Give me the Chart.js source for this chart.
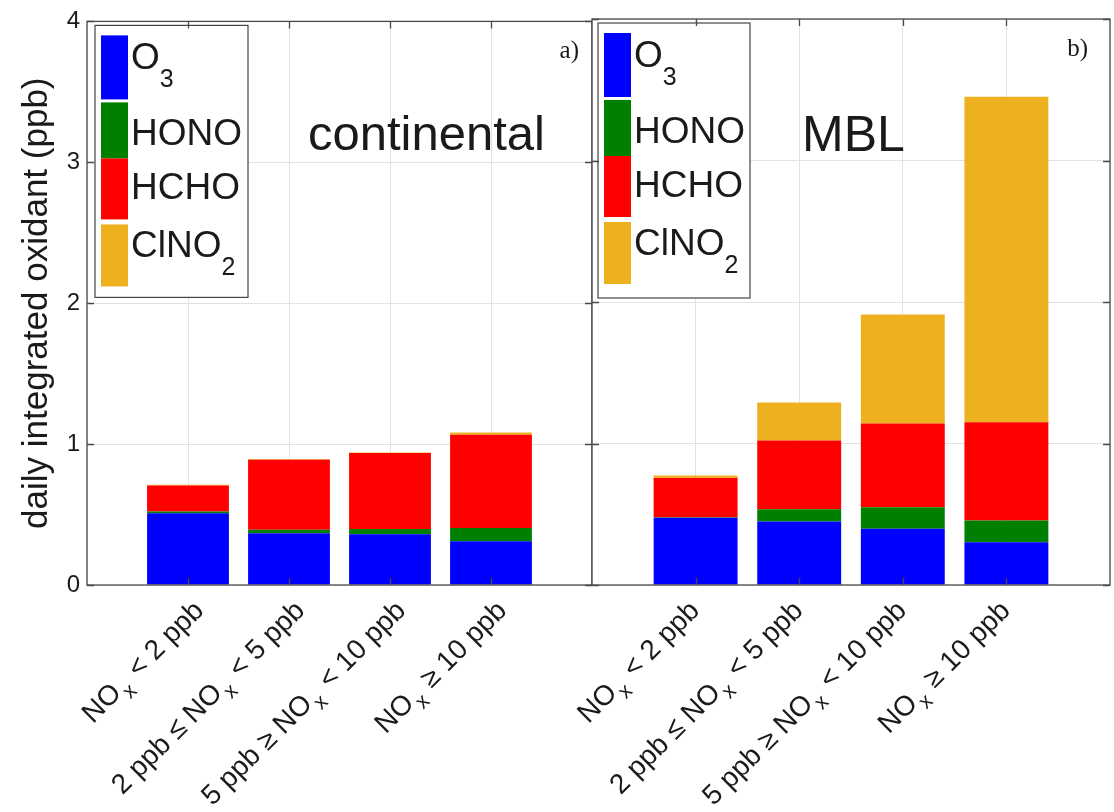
<!DOCTYPE html>
<html><head><meta charset="utf-8">
<script src="https://cdn.jsdelivr.net/npm/chart.js@4.4.1/dist/chart.umd.min.js"></script>
<style>
html,body{margin:0;padding:0;background:#fff;}
#wrap{position:relative;width:1114px;height:812px;overflow:hidden;background:#fff;}
canvas{position:absolute;left:0;top:0;}
</style></head><body>
<div id="wrap"><canvas id="c1" width="1114" height="812"></canvas><canvas id="c2" width="1114" height="812"></canvas></div>
<script>
// ---- data ----
const categories = ['NO_x < 2 ppb', '2 ppb ≤ NO_x < 5 ppb', '5 ppb ≥ NO_x < 10 ppb', 'NO_x ≥ 10 ppb'];
const seriesNames = ['O_3', 'HONO', 'HCHO', 'ClNO_2'];
const yTicks = [0, 1, 2, 3, 4];
const yTitle = 'daily integrated oxidant (ppb)';
// continental (panel a)
const contO3    = [0.510, 0.367, 0.360, 0.310];
const contHONO  = [0.012, 0.026, 0.037, 0.094];
const contHCHO  = [0.185, 0.496, 0.539, 0.663];
const contClNO2 = [0.005, 0.006, 0.004, 0.015];
// MBL (panel b)
const mblO3    = [0.475, 0.449, 0.397, 0.303];
const mblHONO  = [0.004, 0.087, 0.153, 0.153];
const mblHCHO  = [0.278, 0.485, 0.591, 0.694];
const mblClNO2 = [0.016, 0.268, 0.771, 2.300];

const colors = ['#0000ff', '#008000', '#ff0000', '#edb120'];
const FONT = "'Liberation Sans', Arial, Helvetica, sans-serif";
const SERIF = "'Liberation Serif', 'DejaVu Serif', serif";
const TXT = '#1a1a1a';

function parseRich(s) {
  const segs = [];
  let buf = '';
  for (let i = 0; i < s.length; i++) {
    if (s[i] === '_' && i + 1 < s.length) {
      if (buf) segs.push({t: buf, sub: false});
      buf = '';
      segs.push({t: s[i + 1], sub: true});
      i++;
    } else buf += s[i];
  }
  if (buf) segs.push({t: buf, sub: false});
  return segs;
}
function richWidth(ctx, segs, size, subSize, gap) {
  let w = 0;
  segs.forEach(sg => {
    ctx.font = (sg.sub ? subSize : size) + 'px ' + FONT;
    w += ctx.measureText(sg.t).width + (sg.sub ? gap * 2 : 0);
  });
  return w;
}
function drawRich(ctx, segs, x, y, size, subSize, subDrop, gap) {
  segs.forEach(sg => {
    ctx.font = (sg.sub ? subSize : size) + 'px ' + FONT;
    if (sg.sub) x += gap;
    ctx.fillText(sg.t, x, y + (sg.sub ? subDrop : 0));
    x += ctx.measureText(sg.t).width + (sg.sub ? gap : 0);
  });
}

const panelPlugin = {
  id: 'panel',
  afterDraw(chart, args, o) {
    const ctx = chart.ctx, a = chart.chartArea;
    const xs = chart.scales.x, ys = chart.scales.y;
    ctx.save();
    // legend box
    const L = o.legend;
    const lx = a.left + L.x, ly = a.top + L.y;
    ctx.fillStyle = '#fff';
    ctx.fillRect(lx, ly, L.w, L.h);
    ctx.strokeStyle = '#444'; ctx.lineWidth = 1.2;
    ctx.strokeRect(lx, ly, L.w, L.h);
    const rows = [[10, 74, 44], [77, 133, 120], [133, 194, 174], [199, 261, 232]];
    ctx.textAlign = 'left'; ctx.textBaseline = 'alphabetic';
    seriesNames.forEach((n, i) => {
      ctx.fillStyle = colors[i];
      ctx.fillRect(lx + 6, ly + rows[i][0], 27, rows[i][1] - rows[i][0]);
      ctx.fillStyle = TXT;
      drawRich(ctx, parseRich(n), lx + 36, ly + rows[i][2], 37, 25, 18, 0);
    });
    // panel title & tag
    ctx.fillStyle = TXT;
    ctx.font = o.titleSize + 'px ' + FONT;
    ctx.fillText(o.title, a.left + o.titleX, a.top + o.titleY);
    ctx.font = '25px ' + SERIF;
    ctx.textAlign = 'right';
    ctx.fillText(o.tag, a.right - o.tagR, a.top + 37);
    // box and inward ticks
    ctx.strokeStyle = '#4a4a4a'; ctx.lineWidth = 1.3;
    ctx.strokeRect(a.left, a.top, a.right - a.left, a.bottom - a.top);
    const tl = 7;
    ctx.beginPath();
    yTicks.forEach(v => {
      const y = Math.round(ys.getPixelForValue(v)) + 0.5;
      ctx.moveTo(a.left, y); ctx.lineTo(a.left + tl, y);
      ctx.moveTo(a.right, y); ctx.lineTo(a.right - tl, y);
    });
    categories.forEach((c, i) => {
      const x = Math.round(xs.getPixelForValue(i + 1)) + 0.5;
      ctx.moveTo(x, a.bottom); ctx.lineTo(x, a.bottom - tl);
      ctx.moveTo(x, a.top); ctx.lineTo(x, a.top + tl);
    });
    ctx.stroke();
    // rotated category labels
    ctx.fillStyle = TXT;
    ctx.textAlign = 'left';
    categories.forEach((c, i) => {
      const segs = parseRich(c);
      const x = xs.getPixelForValue(i + 1) + o.labelShift;
      const y = a.bottom + 20;
      const w = richWidth(ctx, segs, 28, 21, 2);
      ctx.save();
      ctx.translate(x, y);
      ctx.rotate(-Math.PI / 4);
      drawRich(ctx, segs, -w, 10, 28, 21, 9, 2);
      ctx.restore();
    });
    ctx.restore();
  }
};

function makeChart(id, vals, o) {
  const labels = ['', ...categories, ''];
  const pad = v => [null, ...v, null];
  return new Chart(document.getElementById(id), {
    type: 'bar',
    data: {
      labels,
      datasets: seriesNames.map((n, i) => ({
        label: n, data: pad(vals[i]), backgroundColor: colors[i],
        borderWidth: 0, barPercentage: 0.81, categoryPercentage: 1
      }))
    },
    options: {
      responsive: false, animation: false, devicePixelRatio: 1,
      layout: {padding: o.padding},
      events: [],
      plugins: {legend: {display: false}, tooltip: {enabled: false}, panel: o.panel},
      scales: {
        x: {
          stacked: true, offset: false,
          grid: {offset: false, color: '#e2e2e2', drawTicks: false},
          border: {display: false}, ticks: {display: false},
          afterFit(s) { s.height = 0; }
        },
        y: {
          stacked: true, min: 0, max: 4,
          afterBuildTicks(s) { s.ticks = yTicks.map(v => ({value: v})); },
          grid: {color: '#e2e2e2', drawTicks: false},
          border: {display: false},
          ticks: {display: o.showY, font: {family: FONT, size: 24}, color: TXT, padding: 7},
          title: {display: o.showY, text: yTitle, font: {family: FONT, size: 35}, color: TXT, padding: {top: 16, bottom: 0}},
          afterFit(s) { s.width = o.yWidth; }
        }
      }
    },
    plugins: [panelPlugin]
  });
}

makeChart('c1', [contO3, contHONO, contHCHO, contClNO2], {
  padding: {left: 0, top: 19, right: 522, bottom: 227},
  showY: true, yWidth: 87,
  panel: {
    legend: {x: 8, y: 4, w: 153, h: 272},
    title: 'continental', titleX: 221, titleY: 129, titleSize: 49,
    tag: 'a)', tagR: 13, labelShift: 10
  }
});
makeChart('c2', [mblO3, mblHONO, mblHCHO, mblClNO2], {
  padding: {left: 592, top: 19, right: 4, bottom: 227},
  showY: false, yWidth: 0,
  panel: {
    legend: {x: 6, y: 4, w: 152, h: 275},
    title: 'MBL', titleX: 210, titleY: 132, titleSize: 50,
    tag: 'b)', tagR: 22, labelShift: -2
  }
});
</script>
</body></html>
